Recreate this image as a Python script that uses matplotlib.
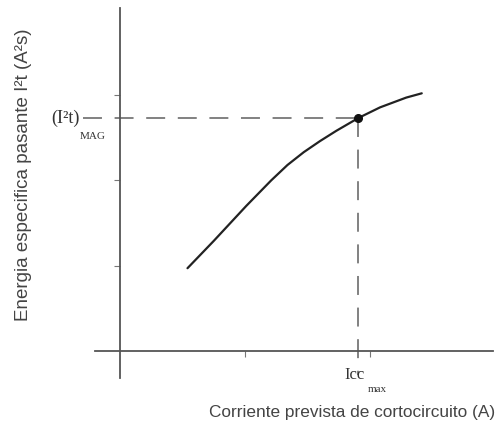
import matplotlib
matplotlib.use("Agg")
from matplotlib import pyplot as plt

# curva de energia especifica pasante frente a la corriente prevista
corriente = [0.54, 0.75, 1.01, 1.21, 1.34, 1.47, 1.60, 1.73, 1.906, 2.08, 2.29, 2.414]
energia = [0.97, 1.29, 1.70, 2.00, 2.18, 2.33, 2.46, 2.58, 2.73, 2.855, 2.97, 3.02]

icc_max = 1.906
i2t_mag = 2.73

x_ticks = [1, 2]
y_ticks = [1, 2, 3]

axis_color = '#555555'
text_color = '#444444'
dash_color = '#777777'

fig = plt.figure(figsize=(5.02, 4.34), dpi=100)
ax = fig.add_axes([95 / 502, 56 / 434, 398 / 502, 370 / 434])

ax.set_xlim(-0.2, 2.984)
ax.set_ylim(-0.317, 4.02)

for side in ('top', 'right'):
    ax.spines[side].set_visible(False)
for side in ('left', 'bottom'):
    ax.spines[side].set_position(('data', 0))
    ax.spines[side].set_color(axis_color)
    ax.spines[side].set_linewidth(1.3)

ax.set_xticks(x_ticks)
ax.set_yticks(y_ticks)
ax.set_xticklabels([])
ax.set_yticklabels([])
ax.tick_params(axis='both', direction='out', length=4, width=0.8, color='#777777')

ax.plot(corriente, energia, color='#222222', linewidth=1.6,
        solid_capstyle='round', solid_joinstyle='round')

# lineas de referencia hasta el punto de interseccion
ax.plot([-0.296, icc_max], [i2t_mag, i2t_mag], color=dash_color, linewidth=1.3,
        dashes=(10.5, 7), clip_on=False)
ax.plot([icc_max, icc_max], [i2t_mag, -0.28], color=dash_color, linewidth=1.3,
        dashes=(10.5, 7))
ax.plot([icc_max], [i2t_mag], 'o', color='#111111', markersize=5.5)

ax.text(-0.32, i2t_mag, '(I²t)', family='Liberation Serif', fontsize=13,
        color='#333333', ha='right', va='center')
ax.text(-0.32, (351 - 137) / 85.3, 'MAG', family='Liberation Serif', fontsize=8,
        color='#333333', ha='left', va='center')
ax.text(1.88, -0.281, 'Icc', family='Liberation Serif', fontsize=12,
        color='#333333', ha='center', va='center')
ax.text(1.984, -0.457, 'max', family='Liberation Serif', fontsize=8,
        color='#333333', ha='left', va='center')

fig.text(352 / 502, 1 - 413 / 434, 'Corriente prevista de cortocircuito (A)',
         family='Liberation Sans', fontsize=12.4, color=text_color,
         ha='center', va='center')
fig.text(24 / 502, 1 - 175 / 434, 'Energia especifica pasante I²t (A²s)',
         family='Liberation Sans', fontsize=13.5, color=text_color,
         ha='center', va='center', rotation=90)

fig.savefig('out.png', dpi=100)
